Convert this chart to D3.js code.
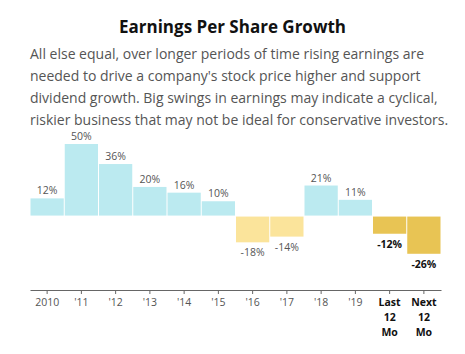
<!DOCTYPE html>
<html>
<head>
<meta charset="utf-8">
<script src="https://cdn.jsdelivr.net/npm/d3@7"></script>
<style>
    body { margin: 0; background: #fff; font-family: "Open Sans", sans-serif; }
    .tick text { fill: #555; font-size: 10.5px; font-family: "Open Sans", sans-serif; }
    .tick line, .domain { stroke: #666; }
</style>
</head>
<body>
<div id="chart"></div>
<script>
const years = ["2010", "'11", "'12", "'13", "'14", "'15", "'16", "'17", "'18", "'19", "Last 12 Mo", "Next 12 Mo"];
const growth = [12, 50, 36, 20, 16, 10, -18, -14, 21, 11, -12, -26];
const estimated = [false, false, false, false, false, false, false, false, false, false, true, true];

const subtitle = [
    "All else equal, over longer periods of time rising earnings are",
    "needed to drive a company's stock price higher and support",
    "dividend growth. Big swings in earnings may indicate a cyclical,",
    "riskier business that may not be ideal for conservative investors."
];

const width = 465, height = 354;

const svg = d3.select("#chart").append("svg")
    .attr("width", width)
    .attr("height", height);

svg.append("text")
    .attr("x", width / 2)
    .attr("y", 33)
    .attr("text-anchor", "middle")
    .style("font-size", "17px")
    .style("font-weight", 700)
    .style("fill", "#111")
    .text("Earnings Per Share Growth");

svg.append("text")
    .attr("y", 59)
    .style("font-size", "14px")
    .style("fill", "#555")
    .selectAll("tspan")
    .data(subtitle)
    .join("tspan")
    .attr("x", 30)
    .attr("dy", (d, i) => i === 0 ? 0 : 22)
    .text(d => d);

const data = years.map((y, i) => ({year: y, value: growth[i], est: estimated[i]}));

const x = d3.scaleBand()
    .domain(years)
    .range([30, 441]);

const y = d3.scaleLinear()
    .domain([-52, 50])
    .range([290, 144]);

const colour = d => d.est ? "#e8c454" : (d.value >= 0 ? "#bbeaf0" : "#fbe49b");

svg.selectAll(".bar")
    .data(data)
    .join("rect")
    .attr("class", "bar")
    .attr("x", d => x(d.year) + 0.5)
    .attr("width", x.bandwidth() - 1)
    .attr("y", d => d.value >= 0 ? y(d.value) : y(0) + 1)
    .attr("height", d => Math.abs(y(d.value) - y(0)))
    .attr("fill", colour);

svg.selectAll(".label")
    .data(data)
    .join("text")
    .attr("class", "label")
    .attr("x", d => x(d.year) + x.bandwidth() / 2)
    .attr("y", d => d.value >= 0 ? y(d.value) - 4 : y(d.value) + 15)
    .attr("text-anchor", "middle")
    .style("font-size", "10.5px")
    .style("font-weight", d => d.est ? 700 : 400)
    .style("fill", d => d.est ? "#111" : "#555")
    .text(d => d.value + "%");

const xAxis = d3.axisBottom(x)
    .tickSize(4)
    .tickSizeOuter(0);

const gx = svg.append("g")
    .attr("transform", "translate(0, 290)")
    .call(xAxis);

gx.select(".domain").attr("stroke-width", 1.2);

// wrap the multi-word labels onto several lines
gx.selectAll(".tick text").each(function (d, i) {
    const t = d3.select(this);
    const words = d.split(" ");
    t.text(null);
    if (estimated[i]) t.style("font-weight", 700).style("fill", "#111");
    words.forEach((w, j) => {
        t.append("tspan")
            .attr("x", 0)
            .attr("dy", j === 0 ? "0.71em" : "1.4em")
            .text(w);
    });
});
gx.selectAll(".tick text").attr("y", 9);
</script>
</body>
</html>
